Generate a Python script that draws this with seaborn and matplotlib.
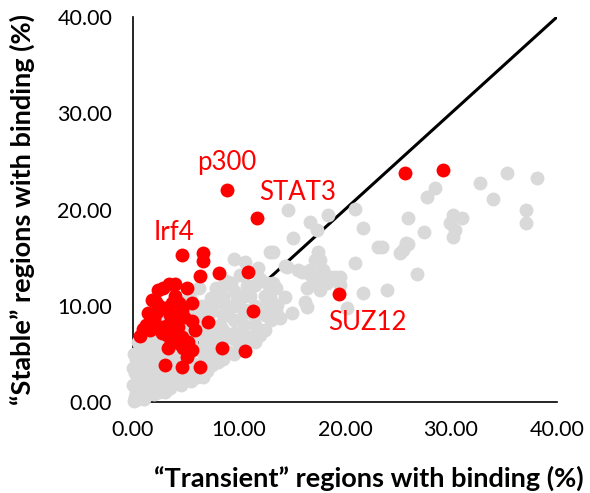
import matplotlib
matplotlib.use("Agg")
import matplotlib.pyplot as plt
import seaborn as sns
import pandas as pd

# ---- data (percent) ----
grey_x = [32.7, 35.3, 38.1, 34.0, 37.1, 37.1, 28.5, 27.7, 25.9, 30.2, 31.0, 29.9, 30.4, 30.2,
          27.5, 23.5, 25.9, 25.2, 26.8, 24.0,
          14.6, 18.4, 20.9, 16.7, 17.4, 21.7, 15.1, 13.2, 17.5, 17.2, 17.6, 16.7, 15.9, 17.9,
          17.4, 18.6, 19.5, 20.9, 25.5, 25.8, 14.3, 15.6, 16.5, 17.0, 16.4, 17.6, 18.3, 19.1,
          19.5, 17.8, 12.6, 14.3, 16.2, 16.4, 15.0, 21.7, 20.2, 11.8, 13.2, 12.9, 10.6, 12.9,
          13.6, 13.4, 12.0, 12.9, 10.1, 9.2, 13.9, 11.7, 10.1, 6.6, 23.1, 14.5, 11.8, 9.5, 8.5,
          0.1, 0.2, 0.3, 0.5, 0.6, 0.4, 0.8, 1.0, 1.2, 0.2, 0.5, 1.5, 1.8, 2.0, 1.3, 2.5, 2.8,
          3.0, 0.3, 0.8, 1.0, 2.2, 3.3, 3.6, 0.5, 1.5, 4.0, 4.2, 3.8, 2.5, 4.8, 5.0, 5.5, 4.5,
          6.0, 5.8, 6.5, 7.0, 6.8, 7.5, 8.0, 7.2, 8.5, 9.0, 8.2, 9.5, 10.0, 9.0, 10.5, 11.0,
          10.0, 11.5, 12.0, 11.0, 12.5, 13.0, 9.5, 8.0, 7.0, 6.0, 5.2, 4.0, 3.0, 6.5, 7.8, 5.5,
          8.8, 10.8, 12.0, 1.0, 2.0, 3.0, 3.5, 4.5, 5.5, 2.0, 0.0, 0.0, 0.1, 1.6, 2.6, 3.4,
          4.6, 5.4, 6.2, 7.4, 8.6, 9.8, 10.6, 11.4,
          0.5, 0.5, 0.5, 0.5, 1.5, 1.5, 1.5, 1.5, 1.5, 2.5, 2.5, 2.5, 2.5, 2.5,
          3.5, 3.5, 3.5, 3.5, 4.5, 4.5, 4.5, 4.5, 5.5, 5.5, 5.5, 5.5, 6.5, 6.5, 6.5, 6.5,
          7.5, 7.5, 7.5, 7.5, 8.5, 8.5, 8.5, 8.5, 8.5, 9.5, 9.5, 9.5, 9.5,
          10.5, 10.5, 10.5, 10.5, 11.5, 11.5, 11.5, 11.5, 12.5, 12.5, 12.5, 13.5, 13.5]
grey_y = [22.8, 23.8, 23.3, 21.1, 19.9, 18.6, 22.2, 21.3, 19.1, 19.4, 19.1, 18.6, 17.9, 17.1,
          17.7, 16.1, 16.4, 15.5, 13.3, 11.6,
          19.9, 19.4, 20.1, 18.7, 17.9, 18.1, 17.0, 15.6, 15.6, 14.8, 14.8, 13.7, 13.5, 13.7,
          12.9, 13.0, 13.0, 14.4, 15.8, 16.5, 14.1, 13.7, 13.4, 12.7, 11.8, 11.6, 12.4, 13.0,
          12.2, 13.5, 12.4, 10.9, 10.4, 9.9, 9.2, 11.3, 9.8, 7.2, 12.4, 11.3, 14.5, 15.6,
          10.1, 8.8, 7.0, 10.9, 13.2, 12.4, 8.7, 6.8, 6.1, 2.6, 16.1, 14.0, 13.9, 14.9, 12.0,
          0.1, 0.5, 1.0, 0.3, 1.5, 2.2, 0.8, 2.5, 1.2, 3.0, 3.6, 0.9, 2.0, 3.2, 3.8, 1.6, 2.6,
          4.0, 4.5, 5.5, 4.6, 4.8, 1.9, 3.0, 6.2, 6.0, 2.4, 4.2, 5.2, 5.8, 3.0, 4.8, 3.5, 6.0,
          2.6, 5.5, 4.0, 3.2, 6.2, 5.0, 4.2, 7.5, 6.5, 5.2, 8.0, 7.2, 6.0, 9.0, 8.0, 6.8,
          10.0, 9.0, 7.5, 11.0, 10.0, 8.5, 11.5, 10.5, 9.0, 8.0, 7.0, 7.5, 6.8, 10.0, 11.8, 9.5,
          12.6, 12.0, 12.8, 0.3, 0.8, 1.0, 1.5, 1.8, 2.2, 1.3, 1.8, 3.5, 5.0, 7.0, 8.2, 9.6,
          10.4, 11.0, 11.8, 10.8, 10.2, 10.6, 9.6, 9.0,
          0.8, 2.8, 4.0, 5.2, 1.2, 2.5, 3.5, 4.8, 5.5, 1.0, 2.2, 3.5, 4.5, 6.5,
          2.5, 3.8, 4.8, 6.2, 2.5, 3.8, 5.0, 7.0, 3.0, 4.2, 6.2, 8.0, 3.2, 5.2, 7.0, 8.8,
          3.8, 6.0, 7.0, 9.5, 4.5, 5.5, 7.5, 9.0, 10.8, 5.0, 6.5, 8.5, 10.0,
          5.5, 7.0, 9.2, 11.0, 6.2, 8.0, 10.0, 12.2, 7.5, 9.0, 11.0, 9.5, 11.8]

red_x = [4.59, 6.63, 6.63, 6.32, 8.11, 10.85, 11.32, 2.83, 3.40, 3.96, 5.09, 2.36, 1.79, 3.68,
         4.34, 5.57, 1.42, 2.26, 3.49, 3.96, 5.57, 7.08, 5.85, 0.66, 1.60, 2.74, 3.68, 4.62,
         4.25, 3.30, 4.72, 5.57, 5.09, 8.40, 10.57, 3.02, 4.62, 6.32, 8.87, 11.70, 19.43,
         25.66, 29.25, 1.9, 3.3, 4.4, 2.5, 3.2, 4.1, 0.9,
         2.0, 3.0, 4.0, 2.8, 1.2, 4.8, 3.6, 5.2, 2.2, 4.6]
red_y = [15.27, 15.51, 14.68, 13.09, 13.40, 13.51, 9.45, 11.84, 12.26, 12.26, 11.84, 11.64,
         10.60, 10.29, 10.29, 10.29, 9.25, 9.35, 9.04, 8.52, 8.42, 8.31, 7.48, 6.86, 7.48,
         7.17, 6.96, 6.75, 7.79, 5.61, 5.61, 5.40, 4.68, 5.61, 5.30, 3.84, 3.64, 3.64, 22.03,
         19.12, 11.22, 23.79, 24.10, 8.0, 8.0, 6.0, 10.0, 7.0, 8.9, 7.6,
         8.6, 9.8, 11.0, 7.8, 8.0, 8.8, 6.2, 6.2, 10.4, 9.6]

labels = ["p300", "STAT3", "Irf4", "SUZ12"]
label_x = [8.8, 15.5, 3.9, 22.1]
label_y = [24.9, 21.8, 17.6, 8.3]

ticks = [0, 10, 20, 30, 40]
xlabel = "\u201cTransient\u201d regions with binding (%)"
ylabel = "\u201cStable\u201d regions with binding (%)"

# ---- plot ----
sns.set_theme(style="white")
plt.rcParams["font.family"] = ["Lato", "DejaVu Sans"]

fig = plt.figure(figsize=(5.9, 4.93), dpi=100)
ax = fig.add_axes([0.2254, 0.1846, 0.7186, 0.7809])

ax.plot([0, 40], [0, 40], color="black", lw=2.2, zorder=2, solid_capstyle="butt")

gdf = pd.DataFrame({"x": grey_x, "y": grey_y})
rdf = pd.DataFrame({"x": red_x, "y": red_y})
sns.scatterplot(data=gdf, x="x", y="y", ax=ax, color="#d9d9d9", s=100,
                linewidth=0, zorder=3, clip_on=False)
sns.scatterplot(data=rdf, x="x", y="y", ax=ax, color="#ff0000", s=100,
                linewidth=0, zorder=4, clip_on=False)

for t, lx, ly in zip(labels, label_x, label_y):
    ax.text(lx, ly, t, color="#ff0000", fontsize=18.5, ha="center", va="center", zorder=5)

ax.set_xlim(0, 40)
ax.set_ylim(0, 40)
ax.set_xticks(ticks)
ax.set_yticks(ticks)
ax.set_xticklabels([f"{t:.2f}" for t in ticks], fontsize=15.5)
ax.set_yticklabels([f"{t:.2f}" for t in ticks], fontsize=15.5)
ax.tick_params(axis="x", length=0, pad=13, colors="black")
ax.tick_params(axis="y", length=0, pad=15, colors="black")
ax.set_xlabel(xlabel, fontsize=19.5, fontweight="bold", color="black")
ax.set_ylabel(ylabel, fontsize=19.5, fontweight="bold", color="black")
ax.xaxis.set_label_coords(0.557, -0.165)
ax.yaxis.set_label_coords(-0.232, 0.50)

for side in ["top", "right"]:
    ax.spines[side].set_visible(False)
for side in ["left", "bottom"]:
    ax.spines[side].set_color("black")
    ax.spines[side].set_linewidth(1.2)
    ax.spines[side].set_zorder(2.5)

fig.savefig("out.png", dpi=100)
